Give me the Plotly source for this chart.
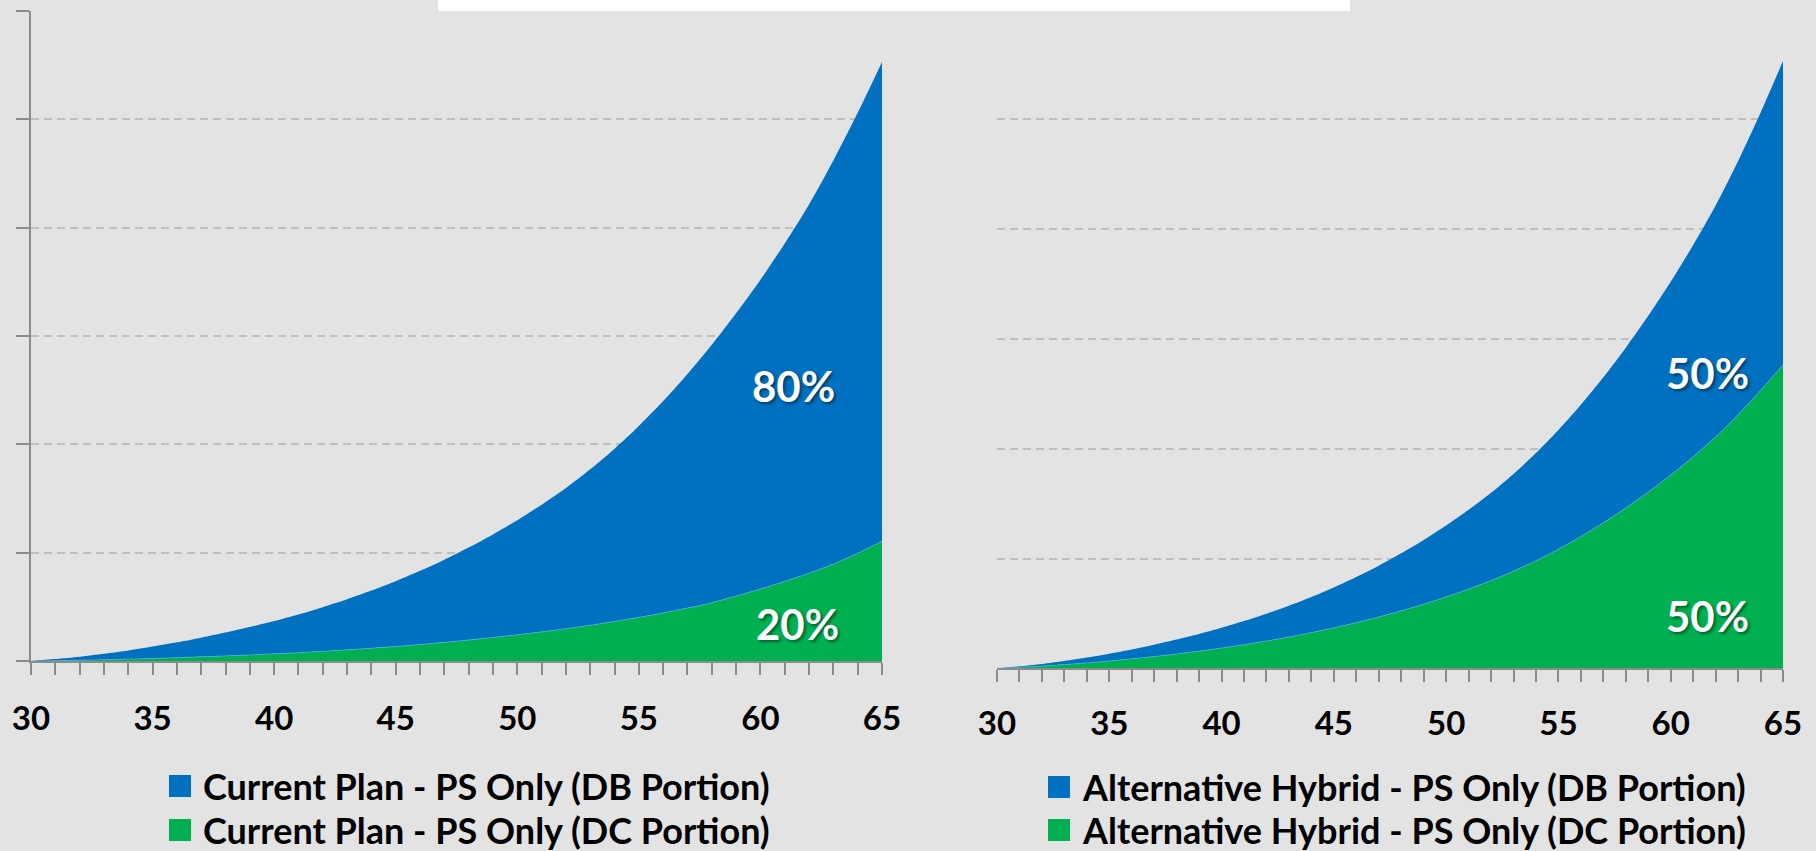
import plotly.graph_objects as go

# Age at each point (x axis)
ages = list(range(30, 66))

# Current plan: DC portion (bottom) and DB portion (stacked on top)
current_dc = [0, 0.003, 0.007, 0.012, 0.018, 0.024, 0.031, 0.039, 0.047, 0.056,
              0.066, 0.077, 0.089, 0.103, 0.118, 0.134, 0.152, 0.172, 0.194, 0.217,
              0.242, 0.269, 0.298, 0.330, 0.365, 0.403, 0.444, 0.489, 0.538, 0.600,
              0.665, 0.735, 0.810, 0.895, 0.995, 1.106]
current_db = [0, 0.015, 0.033, 0.055, 0.080, 0.109, 0.141, 0.176, 0.215, 0.257,
              0.303, 0.353, 0.408, 0.467, 0.532, 0.603, 0.680, 0.763, 0.853, 0.951,
              1.058, 1.174, 1.300, 1.440, 1.595, 1.767, 1.956, 2.161, 2.382, 2.610,
              2.855, 3.120, 3.405, 3.725, 4.065, 4.424]

# Alternative hybrid: DC portion (bottom) and DB portion (stacked on top)
hybrid_dc = [0, 0.009, 0.020, 0.0335, 0.049, 0.0665, 0.086, 0.1075, 0.131, 0.1565,
             0.1845, 0.215, 0.2485, 0.285, 0.325, 0.3685, 0.416, 0.4675, 0.5235, 0.584,
             0.650, 0.7215, 0.799, 0.885, 0.980, 1.085, 1.200, 1.325, 1.460, 1.605,
             1.760, 1.9275, 2.1075, 2.310, 2.530, 2.765]
hybrid_db = [0, 0.009, 0.020, 0.0335, 0.049, 0.0665, 0.086, 0.1075, 0.131, 0.1565,
             0.1845, 0.215, 0.2485, 0.285, 0.325, 0.3685, 0.416, 0.4675, 0.5235, 0.584,
             0.650, 0.7215, 0.799, 0.885, 0.980, 1.085, 1.200, 1.325, 1.460, 1.605,
             1.760, 1.9275, 2.1075, 2.310, 2.530, 2.765]

x_tick_vals = [30, 35, 40, 45, 50, 55, 60, 65]
x_tick_text = ["30", "35", "40", "45", "50", "55", "60", "65"]

legend_left = ["Current Plan - PS Only (DB Portion)", "Current Plan - PS Only (DC Portion)"]
legend_right = ["Alternative Hybrid - PS Only (DB Portion)", "Alternative Hybrid - PS Only (DC Portion)"]

share_left = ["80%", "20%"]
share_right = ["50%", "50%"]

W, H = 1816, 851
BG = "#E3E3E3"
BLUE = "#0070C0"
GREEN = "#00B050"
AXIS = "#8C8C8C"
GRID = "#BFBFBF"
FONT = "Lato"


def px(x):
    return x / W


def py(y):
    return 1 - y / H


fig = go.Figure()

for xa, ya, dc, db in [("x", "y", current_dc, current_db), ("x2", "y2", hybrid_dc, hybrid_db)]:
    grp = "g" + xa
    fig.add_trace(go.Scatter(x=ages, y=dc, stackgroup=grp, mode="lines",
                             line=dict(width=0.6, color="#5FB9E0", shape="spline", smoothing=0.8),
                             fillcolor=GREEN, xaxis=xa, yaxis=ya, showlegend=False,
                             hoverinfo="skip"))
    fig.add_trace(go.Scatter(x=ages, y=db, stackgroup=grp, mode="lines",
                             line=dict(width=0, shape="spline", smoothing=0.8),
                             fillcolor=BLUE, xaxis=xa, yaxis=ya, showlegend=False,
                             hoverinfo="skip"))

tickfont = dict(family=FONT, size=33, color="black", weight="bold")

xcommon = dict(range=[30, 65], tickmode="array", tickvals=x_tick_vals, ticktext=x_tick_text,
               ticks="outside", ticklen=12, tickwidth=1.5, tickcolor=AXIS,
               minor=dict(dtick=1, ticks="outside", ticklen=12, tickwidth=1.5, tickcolor=AXIS),
               showline=True, linecolor=AXIS, linewidth=2, showgrid=False, zeroline=False,
               tickfont=tickfont, fixedrange=True, automargin=False)

ycommon = dict(range=[0, 6], dtick=1, showgrid=True, gridcolor=GRID, gridwidth=2,
               griddash="8px,5px", zeroline=False, showticklabels=False, fixedrange=True,
               automargin=False)

fig.update_layout(
    width=W, height=H,
    margin=dict(l=0, r=0, t=0, b=0, autoexpand=False),
    paper_bgcolor=BG, plot_bgcolor=BG,
    xaxis=dict(domain=[px(31), px(882)], anchor="y", ticklabelstandoff=15, **xcommon),
    yaxis=dict(domain=[py(661), py(11)], anchor="x", showline=True, linecolor=AXIS,
               linewidth=2, ticks="outside", ticklen=13, tickwidth=2, tickcolor=AXIS, **ycommon),
    xaxis2=dict(domain=[px(997), px(1783)], anchor="y2", ticklabelstandoff=13, **xcommon),
    yaxis2=dict(domain=[py(668.3), py(9.5)], anchor="x2", showline=False, ticks="", **ycommon),
    showlegend=False,
)

shapes = []
annotations = []

# White strip along the top edge
shapes.append(dict(type="rect", xref="paper", yref="paper", x0=px(438), x1=px(1350),
                   y0=py(11), y1=1, fillcolor="white", line=dict(width=0), layer="above"))

# Legends: colour swatch plus label
legend_font = dict(family=FONT, size=36, color="black", weight="bold")
for names, sx, tx, rows in [(legend_left, 169, 201, [786, 830]),
                            (legend_right, 1048, 1080, [787, 830])]:
    for name, color, cy in zip(names, [BLUE, GREEN], rows):
        shapes.append(dict(type="rect", xref="paper", yref="paper",
                           x0=px(sx), x1=px(sx + 22), y0=py(cy + 11), y1=py(cy - 11),
                           fillcolor=color, line=dict(width=0)))
        annotations.append(dict(text=name, xref="paper", yref="paper", x=px(tx), y=py(cy),
                                xanchor="left", yanchor="middle", showarrow=False,
                                font=legend_font))

# Share labels inside the areas
share_font = dict(family=FONT, size=42, color="white", weight="bold",
                  shadow="2px 2px 3px rgba(0,0,0,0.45)")
for label, (cx, cy) in zip(share_left, [(793, 386), (797, 624)]):
    annotations.append(dict(text=label, xref="paper", yref="paper", x=px(cx), y=py(cy),
                            xanchor="center", yanchor="middle", showarrow=False, font=share_font))
for label, (cx, cy) in zip(share_right, [(1707, 373), (1707, 616)]):
    annotations.append(dict(text=label, xref="paper", yref="paper", x=px(cx), y=py(cy),
                            xanchor="center", yanchor="middle", showarrow=False, font=share_font))

fig.update_layout(shapes=shapes, annotations=annotations)

fig.write_html("out.html", config={"displayModeBar": False})
